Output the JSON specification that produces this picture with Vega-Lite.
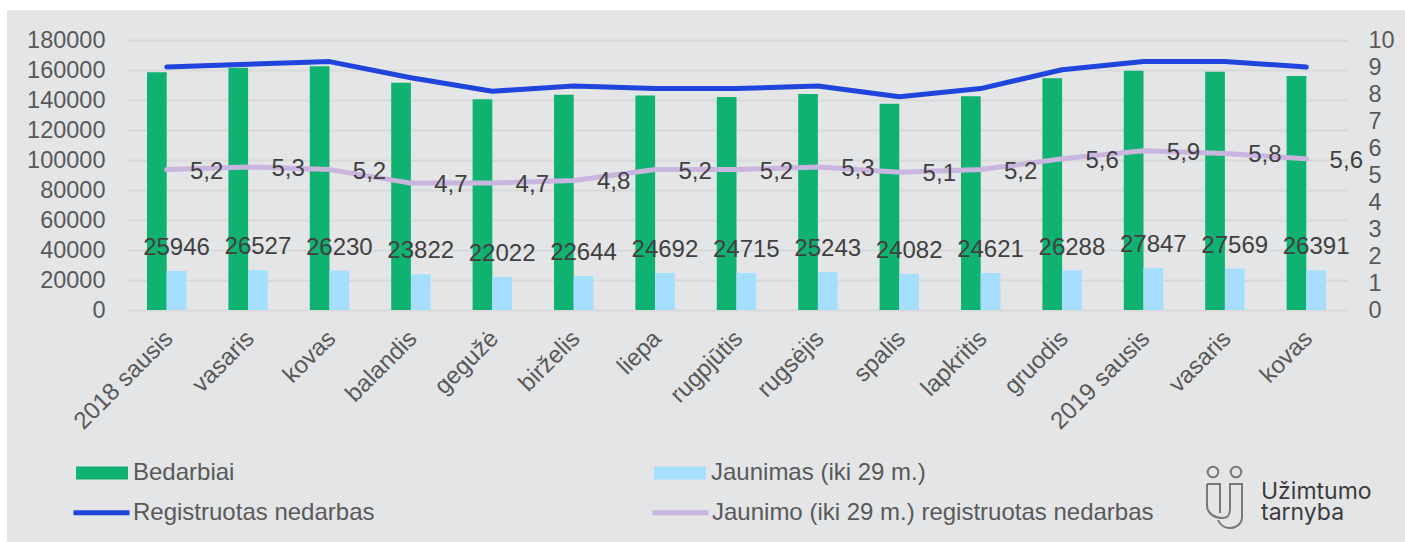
{"$schema":"https://vega.github.io/schema/vega-lite/v6.json","width":1221,"height":270,"padding":0,"background":"#e4e5e7","config":{"locale":{"number":{"decimal":",","thousands":"","grouping":[3],"currency":["","€"]}},"view":{"stroke":null},"font":"Liberation Sans"},
"datasets":{"bars":[
{"month":"2018 sausis","series":"Bedarbiai","value":158500},{"month":"2018 vasaris","series":"Bedarbiai","value":161500},{"month":"2018 kovas","series":"Bedarbiai","value":162500},{"month":"2018 balandis","series":"Bedarbiai","value":151500},{"month":"2018 gegužė","series":"Bedarbiai","value":140500},{"month":"2018 birželis","series":"Bedarbiai","value":143500},{"month":"2018 liepa","series":"Bedarbiai","value":143000},{"month":"2018 rugpjūtis","series":"Bedarbiai","value":142000},{"month":"2018 rugsėjis","series":"Bedarbiai","value":144000},{"month":"2018 spalis","series":"Bedarbiai","value":137500},{"month":"2018 lapkritis","series":"Bedarbiai","value":142500},{"month":"2018 gruodis","series":"Bedarbiai","value":154500},{"month":"2019 sausis","series":"Bedarbiai","value":159500},{"month":"2019 vasaris","series":"Bedarbiai","value":158800},{"month":"2019 kovas","series":"Bedarbiai","value":156000},
{"month":"2018 sausis","series":"Jaunimas (iki 29 m.)","value":25946},{"month":"2018 vasaris","series":"Jaunimas (iki 29 m.)","value":26527},{"month":"2018 kovas","series":"Jaunimas (iki 29 m.)","value":26230},{"month":"2018 balandis","series":"Jaunimas (iki 29 m.)","value":23822},{"month":"2018 gegužė","series":"Jaunimas (iki 29 m.)","value":22022},{"month":"2018 birželis","series":"Jaunimas (iki 29 m.)","value":22644},{"month":"2018 liepa","series":"Jaunimas (iki 29 m.)","value":24692},{"month":"2018 rugpjūtis","series":"Jaunimas (iki 29 m.)","value":24715},{"month":"2018 rugsėjis","series":"Jaunimas (iki 29 m.)","value":25243},{"month":"2018 spalis","series":"Jaunimas (iki 29 m.)","value":24082},{"month":"2018 lapkritis","series":"Jaunimas (iki 29 m.)","value":24621},{"month":"2018 gruodis","series":"Jaunimas (iki 29 m.)","value":26288},{"month":"2019 sausis","series":"Jaunimas (iki 29 m.)","value":27847},{"month":"2019 vasaris","series":"Jaunimas (iki 29 m.)","value":27569},{"month":"2019 kovas","series":"Jaunimas (iki 29 m.)","value":26391}],
"lines":[
{"month":"2018 sausis","series":"Registruotas nedarbas","rate":9.0},{"month":"2018 vasaris","series":"Registruotas nedarbas","rate":9.1},{"month":"2018 kovas","series":"Registruotas nedarbas","rate":9.2},{"month":"2018 balandis","series":"Registruotas nedarbas","rate":8.6},{"month":"2018 gegužė","series":"Registruotas nedarbas","rate":8.1},{"month":"2018 birželis","series":"Registruotas nedarbas","rate":8.3},{"month":"2018 liepa","series":"Registruotas nedarbas","rate":8.2},{"month":"2018 rugpjūtis","series":"Registruotas nedarbas","rate":8.2},{"month":"2018 rugsėjis","series":"Registruotas nedarbas","rate":8.3},{"month":"2018 spalis","series":"Registruotas nedarbas","rate":7.9},{"month":"2018 lapkritis","series":"Registruotas nedarbas","rate":8.2},{"month":"2018 gruodis","series":"Registruotas nedarbas","rate":8.9},{"month":"2019 sausis","series":"Registruotas nedarbas","rate":9.2},{"month":"2019 vasaris","series":"Registruotas nedarbas","rate":9.2},{"month":"2019 kovas","series":"Registruotas nedarbas","rate":9.0},
{"month":"2018 sausis","series":"Jaunimo (iki 29 m.) registruotas nedarbas","rate":5.2},{"month":"2018 vasaris","series":"Jaunimo (iki 29 m.) registruotas nedarbas","rate":5.3},{"month":"2018 kovas","series":"Jaunimo (iki 29 m.) registruotas nedarbas","rate":5.2},{"month":"2018 balandis","series":"Jaunimo (iki 29 m.) registruotas nedarbas","rate":4.7},{"month":"2018 gegužė","series":"Jaunimo (iki 29 m.) registruotas nedarbas","rate":4.7},{"month":"2018 birželis","series":"Jaunimo (iki 29 m.) registruotas nedarbas","rate":4.8},{"month":"2018 liepa","series":"Jaunimo (iki 29 m.) registruotas nedarbas","rate":5.2},{"month":"2018 rugpjūtis","series":"Jaunimo (iki 29 m.) registruotas nedarbas","rate":5.2},{"month":"2018 rugsėjis","series":"Jaunimo (iki 29 m.) registruotas nedarbas","rate":5.3},{"month":"2018 spalis","series":"Jaunimo (iki 29 m.) registruotas nedarbas","rate":5.1},{"month":"2018 lapkritis","series":"Jaunimo (iki 29 m.) registruotas nedarbas","rate":5.2},{"month":"2018 gruodis","series":"Jaunimo (iki 29 m.) registruotas nedarbas","rate":5.6},{"month":"2019 sausis","series":"Jaunimo (iki 29 m.) registruotas nedarbas","rate":5.9},{"month":"2019 vasaris","series":"Jaunimo (iki 29 m.) registruotas nedarbas","rate":5.8},{"month":"2019 kovas","series":"Jaunimo (iki 29 m.) registruotas nedarbas","rate":5.6}]},
"layer":[
{"data":{"name":"bars"},"layer":[
{"mark":{"type":"bar"},"encoding":{"x":{"field":"month","type":"nominal","sort":null,"scale":{"paddingInner":0.516,"paddingOuter":0.258},"axis":{"title":null,"labelAngle":-45,"labelFont":"Liberation Sans","labelFontSize":24,"labelColor":"#595959","ticks":false,"domain":false,"labelPadding":16,"labelOffset":-6,"labelOverlap":false,"labelExpr":"indexof(datum.value,'sausis')>=0 ? datum.value : split(datum.value,' ')[1]"}},"xOffset":{"field":"series","type":"nominal","scale":{"domain":["Bedarbiai","Jaunimas (iki 29 m.)"]}},"y":{"field":"value","type":"quantitative","scale":{"domain":[0,180000],"nice":false},"axis":{"title":null,"orient":"left","values":[0,20000,40000,60000,80000,100000,120000,140000,160000,180000],"tickCount":10,"format":"d","domain":false,"ticks":false,"labelFont":"Liberation Sans","labelFontSize":23.5,"labelColor":"#595959","labelPadding":21,"labelOverlap":false,"gridColor":"#d9d9d9","gridWidth":2,"grid":true}},"fill":{"field":"series","type":"nominal","scale":{"domain":["Bedarbiai","Jaunimas (iki 29 m.)"],"range":["#10b272","#a6deff"]},"legend":{"title":null,"orient":"none","legendX":-51,"legendY":406,"columns":2,"columnPadding":418,"symbolType":"M-1,-0.25H1V0.25H-1Z","symbolSize":2704,"labelFont":"Liberation Sans","labelFontSize":24,"labelColor":"#595959","labelOffset":4,"labelLimit":500}}}},
{"transform":[{"filter":"datum.series=='Jaunimas (iki 29 m.)'"}],"mark":{"type":"text","fontSize":24,"color":"#404040","dy":-23},"encoding":{"x":{"field":"month","type":"nominal","sort":null},"xOffset":{"field":"series","type":"nominal","scale":{"domain":["Bedarbiai","Jaunimas (iki 29 m.)"]}},"y":{"field":"value","type":"quantitative","axis":{"title":null,"orient":"left","values":[0,20000,40000,60000,80000,100000,120000,140000,160000,180000],"tickCount":10,"format":"d","domain":false,"ticks":false,"labelFont":"Liberation Sans","labelFontSize":23.5,"labelColor":"#595959","labelPadding":21,"labelOverlap":false,"gridColor":"#d9d9d9","gridWidth":2,"grid":true}},"text":{"field":"value","type":"quantitative","format":"d"}}}
]},
{"data":{"name":"lines"},"layer":[
{"mark":{"type":"line","strokeWidth":5,"strokeCap":"round","strokeJoin":"round"},"encoding":{"x":{"field":"month","type":"nominal","sort":null},"y":{"field":"rate","type":"quantitative","scale":{"domain":[0,10],"nice":false},"axis":{"title":null,"orient":"right","values":[0,1,2,3,4,5,6,7,8,9,10],"tickCount":11,"format":"d","domain":false,"ticks":false,"grid":false,"labelFont":"Liberation Sans","labelFontSize":23.5,"labelColor":"#595959","labelPadding":21,"labelOverlap":false}},"stroke":{"field":"series","type":"nominal","sort":null,"scale":{"domain":["Registruotas nedarbas","Jaunimo (iki 29 m.) registruotas nedarbas"],"range":["#1f45dc","#c9b5de"]},"legend":{"title":null,"orient":"none","legendX":-55,"legendY":442,"columns":2,"columnPadding":267,"symbolType":"stroke","symbolSize":3136,"symbolStrokeWidth":5,"labelFont":"Liberation Sans","labelFontSize":24,"labelColor":"#595959","labelOffset":1,"labelLimit":600}}}},
{"transform":[{"filter":"datum.series!='Registruotas nedarbas'"}],"mark":{"type":"text","fontSize":24,"color":"#404040","dx":40,"dy":2},"encoding":{"x":{"field":"month","type":"nominal","sort":null},"y":{"field":"rate","type":"quantitative","axis":{"title":null,"orient":"right","values":[0,1,2,3,4,5,6,7,8,9,10],"tickCount":11,"format":"d","domain":false,"ticks":false,"grid":false,"labelFont":"Liberation Sans","labelFontSize":23.5,"labelColor":"#595959","labelPadding":21,"labelOverlap":false}},"text":{"field":"rate","type":"quantitative","format":".1f"}}}
]},
{"data":{"values":[{"a":1}]},"layer":[
{"mark":{"type":"rect","x":-126,"x2":1279,"y":-40,"y2":-30,"fill":"white","clip":false},"encoding":{}},
{"mark":{"type":"rect","x":-126,"x2":-119,"y":-40,"y2":502,"fill":"white","clip":false},"encoding":{}},
{"mark":{"type":"rule","x":-118,"x2":1279,"y":-29,"y2":-29,"stroke":"#d9d9d9","strokeWidth":2},"encoding":{}},
{"mark":{"type":"rule","x":-118,"x2":-118,"y":-30,"y2":502,"stroke":"#d9d9d9","strokeWidth":2},"encoding":{}},
{"mark":{"type":"point","x":1099,"y":465,"size":4,"filled":false,"stroke":"#4a4a4a","strokeWidth":2,"shape":"M-18,-21H-5V8M-18,-21V0C-18,9-10,13-3,13C4,13 5,9 5,4V-21H17V12C17,19 11,23 5,23C0,23-5,20-7,15"},"encoding":{}},
{"mark":{"type":"point","x":1087,"y":432,"size":113,"filled":false,"stroke":"#4a4a4a","strokeWidth":2,"shape":"circle"},"encoding":{}},
{"mark":{"type":"point","x":1110,"y":432,"size":113,"filled":false,"stroke":"#4a4a4a","strokeWidth":2,"shape":"circle"},"encoding":{}},
{"mark":{"type":"text","x":1135,"y":459,"text":"Užimtumo","font":"Inter","fontWeight":400,"fontSize":23,"color":"#3c3c3c","align":"left","baseline":"alphabetic"},"encoding":{}},
{"mark":{"type":"text","x":1135,"y":480,"text":"tarnyba","font":"Inter","fontWeight":400,"fontSize":23,"color":"#3c3c3c","align":"left","baseline":"alphabetic"},"encoding":{}}
]}
],
"resolve":{"scale":{"y":"independent","fill":"independent","stroke":"independent"}}}
